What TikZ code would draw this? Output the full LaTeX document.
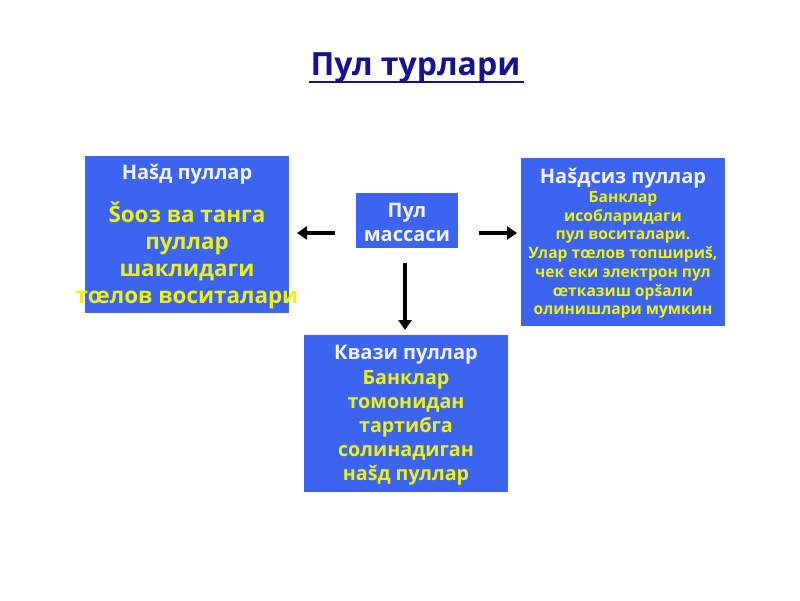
\documentclass[tikz,border=0pt]{standalone}
\usepackage{fontspec}
\setmainfont{Open Sans}
\usetikzlibrary{arrows.meta}
\definecolor{boxblue}{RGB}{60,100,240}
\definecolor{titlenavy}{RGB}{20,20,140}
\definecolor{txtyellow}{RGB}{235,242,20}
\definecolor{txtwhite}{RGB}{240,242,255}
\tikzset{
  bluebox/.style={fill=boxblue, draw=none, inner sep=0pt, outer sep=0pt},
  hdr/.style={text=txtwhite, font=\bfseries\fontsize{20}{24}\selectfont, align=center, inner sep=0pt},
  body/.style={text=txtyellow, align=center, inner sep=0pt},
  arr/.style={line width=3.5pt, -{Triangle[length=10pt,width=13pt]}}
}
\begin{document}
\begin{tikzpicture}[x=1pt,y=-1pt]
\useasboundingbox (0,0) rectangle (800,600);
% title
\node[text=titlenavy, font=\bfseries\fontsize{32}{36}\selectfont, inner sep=0pt, anchor=base] (title) at (415.5,75) {Пул турлари};
\draw[titlenavy, line width=2.5pt] ([xshift=-1pt,yshift=-7pt]title.base west) -- ([xshift=3pt,yshift=-7pt]title.base east);
% boxes
\node[bluebox, minimum width=204pt, minimum height=157pt] (lbox) at (187,234.5) {};
\node[bluebox, minimum width=102pt, minimum height=55pt] (cbox) at (407,220.5) {};
\node[bluebox, minimum width=204pt, minimum height=168pt] (rbox) at (623,242) {};
\node[bluebox, minimum width=204pt, minimum height=157pt] (bbox) at (406,413.5) {};
% texts
\node[hdr] (lhdr) at (187,174) {Наšд пуллар};
\node[body, font=\bfseries\fontsize{22.4}{27}\selectfont] (lbody) at (187,255.5) {Šooз ва танга\\пуллар\\шаклидаги\\тœлов воситалари};
\node[hdr, font=\bfseries\fontsize{20}{24}\selectfont] (ctext) at (407,222) {Пул\\массаси};
\node[hdr] (rhdr) at (623,178) {Наšдсиз пуллар};
\node[body, font=\bfseries\fontsize{15.6}{18.7}\selectfont] (rbody) at (623,255) {Банклар\\исобларидаги\\пул воситалари.\\Улар тœлов топшириš,\\чек еки электрон пул\\œтказиш орšали\\олинишлари мумкин};
\node[hdr] (bhdr) at (406,355) {Квази пуллар};
\node[body, font=\bfseries\fontsize{19.7}{24}\selectfont] (bbody) at (406,427.5) {Банклар\\томонидан\\тартибга\\солинадиган\\наšд пуллар};
% arrows
\draw[arr] ([xshift=-21pt,yshift=-12.5pt]cbox.west) -- ([xshift=8pt,yshift=1.5pt]lbox.east);
\draw[arr] ([xshift=21pt,yshift=-12.5pt]cbox.east) -- ([xshift=-4pt,yshift=9pt]rbox.west);
\draw[arr] ([xshift=-2pt,yshift=-15pt]cbox.south) -- ([xshift=-1pt,yshift=5pt]bbox.north);
\end{tikzpicture}
\end{document}
